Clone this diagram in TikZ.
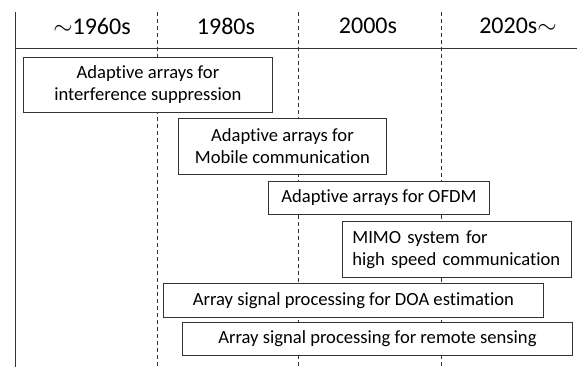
\documentclass[tikz,border=0pt]{standalone}
\usepackage{fontspec}
\setmainfont{Carlito}[Ligatures=NoCommon]
\usetikzlibrary{positioning}

\begin{document}
\begin{tikzpicture}[x=1pt,y=-1pt,line width=0.8pt,
  era/.style={font=\fontsize{24}{28}\selectfont},
  topic/.style={draw=black!80,fill=white,anchor=north west,inner sep=0pt,align=center,font=\fontsize{18.6}{22}\selectfont},
  divider/.style={black!80,dash pattern=on 4pt off 3pt}]
\useasboundingbox (0,0) rectangle (577,367);
\draw [black!80] (15,12) -- (15,367);
\draw [black!80] (15,48) -- (577,48);
\draw [divider] (157,12) -- (157,367);
\draw [divider] (298,12) -- (298,367);
\draw [divider] (441,12) -- (441,367);
\node [era] (e1) at (92,26) {$\sim$1960s};
\node [era] (e2) at (226,26) {1980s};
\node [era] (e3) at (368,26) {2000s};
\node [era] (e4) at (518,26) {2020s$\sim$};
\node [topic,minimum width=249pt,minimum height=55pt] (t1) at (23,57) {Adaptive arrays for\\interference suppression};
\node [topic,minimum width=208pt,minimum height=56pt] (t2) at (178,118) {Adaptive arrays for\\Mobile communication};
\node [topic,minimum width=221pt,minimum height=33pt] (t3) at (268,181) {Adaptive arrays for OFDM};
\node [topic,minimum width=229pt,minimum height=56pt,align=left,text width=209pt] (t4) at (342,221) {MIMO system for\\high speed communication};
\node [topic,minimum width=380pt,minimum height=34pt] (t5) at (163,283) {Array signal processing for DOA estimation};
\node [topic,minimum width=390pt,minimum height=33pt] (t6) at (182,322) {Array signal processing for remote sensing};
\end{tikzpicture}
\end{document}
